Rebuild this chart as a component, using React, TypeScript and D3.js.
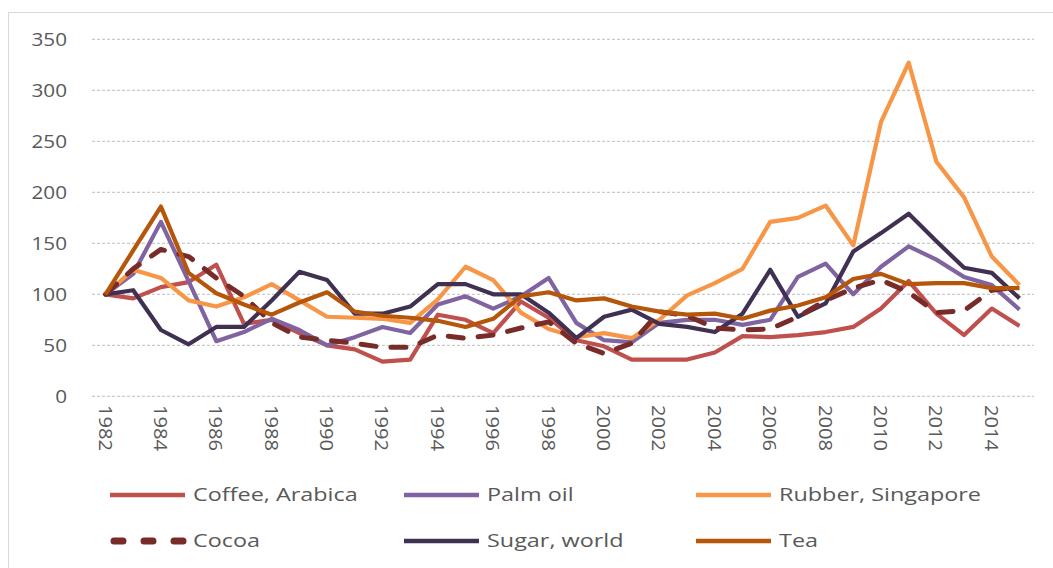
import React from "react";
import * as d3 from "d3";

const years: number[] = d3.range(1982, 2016);
const yTicks: number[] = [0, 50, 100, 150, 200, 250, 300, 350];
const yearLabels: number[] = d3.range(1982, 2016, 2);

const coffee = [100,96,107,112,129,71,75,62,50,46,34,36,80,75,62,93,77,55,49,36,36,36,43,59,58,60,63,68,86,113,81,60,86,69];
const palmOil = [100,120,171,113,54,63,76,65,50,58,68,62,90,98,86,98,116,72,55,53,72,75,75,70,75,117,130,100,127,147,134,117,109,85];
const rubber = [100,124,116,94,88,97,110,94,78,77,76,72,95,127,114,82,66,58,62,57,75,99,111,125,171,175,187,148,269,327,230,195,137,109];
const cocoa = [100,125,144,137,116,98,72,58,55,52,48,48,60,57,60,67,73,52,42,52,83,79,67,65,66,78,94,106,114,102,82,84,104,107];
const sugar = [100,104,65,51,68,68,94,122,114,81,81,88,110,110,100,100,82,57,78,85,71,68,63,81,124,78,91,142,160,179,152,126,121,96];
const tea = [100,143,186,121,101,90,80,92,102,83,79,77,74,68,76,98,102,94,96,88,83,80,81,76,84,89,97,115,120,110,111,111,106,106];

const seriesNames = ["Coffee, Arabica", "Palm oil", "Rubber, Singapore", "Cocoa", "Sugar, world", "Tea"];
const seriesValues = [coffee, palmOil, rubber, cocoa, sugar, tea];
const seriesColors = ["#C0504D", "#8064A2", "#F79646", "#772C2A", "#403152", "#B5560A"];
const seriesDashed = [false, false, false, true, false, false];
// drawing order (back to front)
const drawOrder = [0, 1, 2, 4, 3, 5];

const FONT = "'Open Sans', Lato, sans-serif";
const TEXT = "#595959";

export default function App() {
  const W = 1053, H = 568;
  const x = d3.scalePoint<number>().domain(years).range([105.5, 1019.5]);
  const y = d3.scaleLinear().domain([0, 350]).range([396.3, 39.3]);
  const line = d3.line<number>().x((_, i) => x(years[i]) as number).y((v) => y(v));

  const legendCols = [110, 404, 696];
  const legendRows = [495, 541];

  return (
    <svg width={W} height={H} style={{ position: "absolute", left: 0, top: 0 }}>
      <rect x={0} y={0} width={W} height={H} fill="#fff" />
      <rect x={8.5} y={12.5} width={1100} height={600} fill="none" stroke="#D9D9D9" strokeWidth={1} />
      {yTicks.map((t) => (
        <g key={t}>
          <line x1={92} x2={1034} y1={y(t)} y2={y(t)} stroke="#BDBDBD" strokeWidth={1} strokeDasharray="3 2" />
          <text transform={`translate(67,${y(t)}) scale(1.15,1)`} dy="0.36em" textAnchor="end" fontFamily={FONT} fontSize={18} fill={TEXT}>{t}</text>
        </g>
      ))}
      {yearLabels.map((yr) => (
        <text key={yr} transform={`translate(${(x(yr) as number) - 7},405) rotate(90) scale(1.12,1)`} textAnchor="start" fontFamily={FONT} fontSize={18} fill={TEXT}>{yr}</text>
      ))}
      {drawOrder.map((k) => (
        <path key={k} d={line(seriesValues[k]) || ""} fill="none" stroke={seriesColors[k]}
          strokeWidth={seriesDashed[k] ? 5 : 4.2} strokeLinejoin="round"
          strokeLinecap={seriesDashed[k] ? "round" : "butt"}
          strokeDasharray={seriesDashed[k] ? "15 15" : undefined} />
      ))}
      {seriesNames.map((name, k) => {
        const cx = legendCols[k % 3];
        const cy = legendRows[Math.floor(k / 3)];
        return (
          <g key={name}>
            <line x1={cx + (seriesDashed[k] ? 4 : 0)} x2={cx + 75} y1={cy} y2={cy} stroke={seriesColors[k]}
              strokeWidth={seriesDashed[k] ? 7 : 4.5} strokeLinecap={seriesDashed[k] ? "round" : "butt"}
              strokeDasharray={seriesDashed[k] ? "9 21" : undefined} />
            <text transform={`translate(${cx + 83},${cy}) scale(1.3,1)`} dy="0.36em" fontFamily={FONT} fontSize={18} fill={TEXT}>{name}</text>
          </g>
        );
      })}
    </svg>
  );
}
